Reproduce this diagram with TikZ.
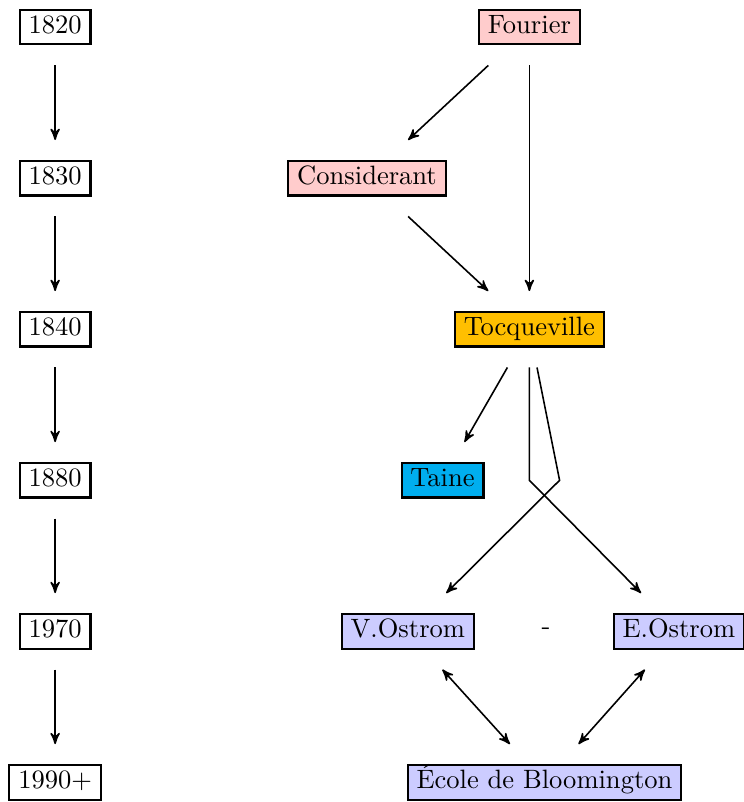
\documentclass[tikz,border=0pt]{standalone}
\usepackage{xcolor}
\usepackage{tikz}
\usetikzlibrary{arrows}
\usetikzlibrary{positioning}

\definecolor{gold}{RGB}{255,191,0}
\definecolor{skyblue}{RGB}{0,174,239}

\begin{document}
\begin{tikzpicture}[node distance=2cm, >=stealth',
        box/.style={draw, thick, text height=1.5ex, text depth=.4ex, inner ysep=2.4pt, outer sep=7.9pt},
        fourierian/.style={box, fill=red!20},
        ostromian/.style={box, fill=blue!20},
        link/.style={semithick}]
            \useasboundingbox (-0.73,0.36) rectangle (9.12,-10.26);

            % timeline
            \node[box] (y1820) at (0,0) {1820};
            \node[box, below of=y1820] (y1830) {1830};
            \node[box, below of=y1830] (y1840) {1840};
            \node[box, below of=y1840] (y1880) {1880};
            \node[box, below of=y1880] (y1970) {1970};
            \node[box, below of=y1970] (y1990) {1990+};

            % authors
            \node[fourierian] (fourier) at (6.28,0) {Fourier};
            \node[fourierian] (considerant) at (4.13,-2) {Considerant};
            \node[box, fill=gold] (tocqueville) at (6.28,-4) {Tocqueville};
            \node[box, fill=skyblue] (taine) at (5.13,-6) {Taine};
            \node[ostromian] (vostrom) at (4.67,-8) {V.Ostrom};
            \node (dash) at (6.50,-8) {-};
            \node[ostromian] (eostrom) at (8.26,-8) {E.Ostrom};
            \node[ostromian] (ecole) at (6.48,-10) {\'Ecole de Bloomington};

            \coordinate (bendE) at (6.28,-6);
            \coordinate (bendV) at (6.68,-6);

            \draw[link]
                    (y1820) edge[->] (y1830)
                    (y1830) edge[->] (y1840)
                    (y1840) edge[->] (y1880)
                    (y1880) edge[->] (y1970)
                    (y1970) edge[->] (y1990)
                    (fourier) edge[->] (considerant)
                    (fourier) edge[->] (tocqueville)
                    (considerant) edge[->] (tocqueville)
                    (tocqueville) edge[->] (taine)
                    (vostrom) edge[<->] (ecole)
                    (eostrom) edge[<->] (ecole)
                    ;
            \draw[link, ->] (tocqueville) -- (bendE) -- (eostrom);
            \draw[link, ->] (tocqueville) -- (bendV) -- (vostrom);
        \end{tikzpicture}
\end{document}
